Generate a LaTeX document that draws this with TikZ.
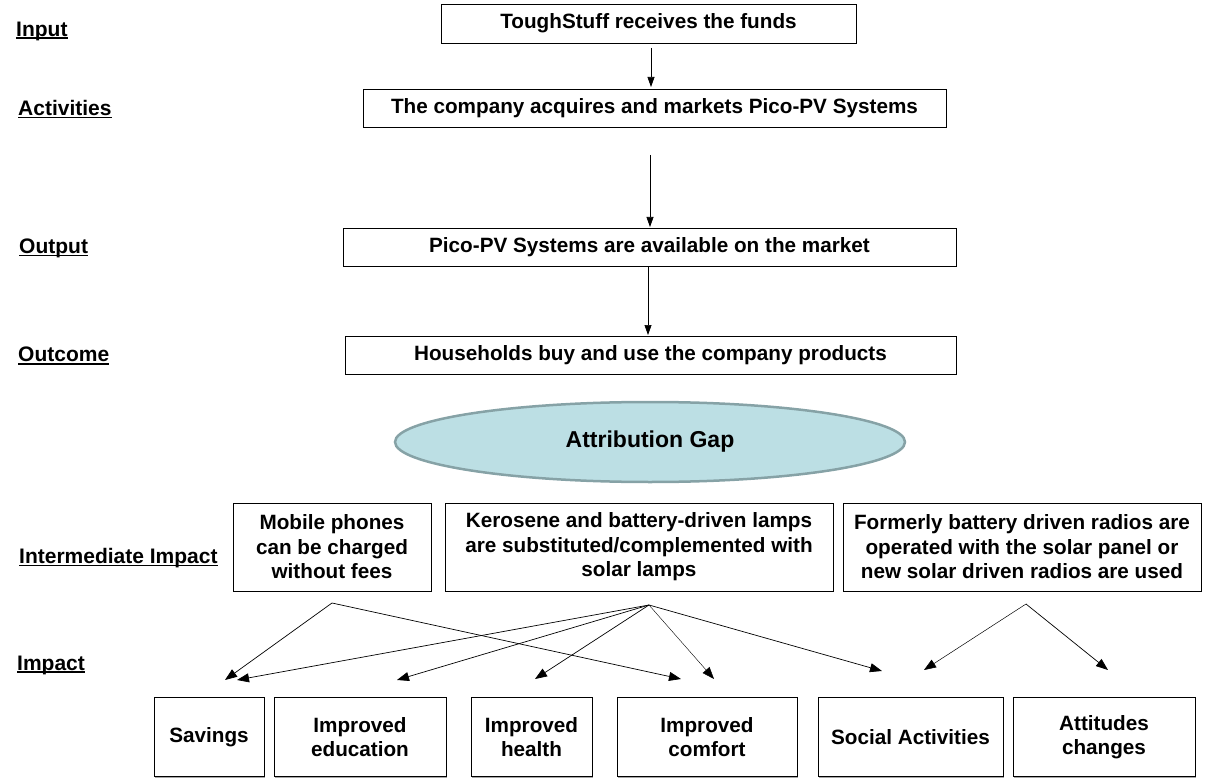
\documentclass[tikz,border=0pt]{standalone}
\usepackage{fontspec}
\setmainfont{Liberation Sans}
\usetikzlibrary{arrows.meta,shapes.geometric,shadows}
\definecolor{gapfill}{HTML}{BCDFE4}
\definecolor{gapline}{HTML}{86A2A6}
\newcommand\ulab[1]{\setbox0\hbox{#1}\rlap{\rule[-3pt]{\wd0}{1.6pt}}\box0}
\begin{document}
\begin{tikzpicture}[x=1pt,y=-1pt,
  box/.style={draw=black,line width=0.8pt,fill=white,align=center,inner sep=0pt,
    font=\bfseries\fontsize{20.7}{24.5}\selectfont,
    drop shadow={shadow xshift=1.2pt,shadow yshift=-1.2pt,fill=gray!70,opacity=1}},
  lbl/.style={anchor=west,inner sep=0pt,font=\bfseries\fontsize{21}{24}\selectfont},
  arr/.style={line width=0.7pt,-{Triangle[length=12pt,width=9pt]}},
  varr/.style={line width=0.7pt,-{Triangle[length=10pt,width=7pt]}}
]
\useasboundingbox (0,0) rectangle (1208,778);

% left labels
\node[lbl] (lin)  at (16,31)  {\ulab{Input}};
\node[lbl] (lact) at (18,109) {\ulab{Activities}};
\node[lbl] (lout) at (19,248) {\ulab{Output}};
\node[lbl] (lotc) at (18,356) {\ulab{Outcome}};
\node[lbl] (limi) at (19,558) {\ulab{Intermediate Impact}};
\node[lbl] (limp) at (17,665) {\ulab{Impact}};

% chain
\node[box,minimum width=415pt,minimum height=39pt] (b1) at (648.5,23.5) {ToughStuff receives the funds};
\node[box,minimum width=583pt,minimum height=38pt] (b2) at (654.5,108) {The company acquires and markets Pico-PV Systems};
\node[box,minimum width=613pt,minimum height=38pt] (b3) at (649.5,247) {Pico-PV Systems are available on the market};
\node[box,minimum width=611pt,minimum height=38pt] (b4) at (650.5,355) {Households buy and use the company products};

\coordinate (s1) at (651,48);  \coordinate (e1) at (651,87);
\coordinate (s2) at (650,155); \coordinate (e2) at (650,227);
\coordinate (s3) at (648,267); \coordinate (e3) at (648,335);
\draw[varr] (s1) -- (e1);
\draw[varr] (s2) -- (e2);
\draw[varr] (s3) -- (e3);

% ellipse
\node[ellipse,draw=gapline,line width=2.5pt,fill=gapfill,minimum width=510pt,minimum height=80pt,inner sep=0pt,
  font=\bfseries\fontsize{23}{26}\selectfont] (gap) at (650,442) {Attribution Gap};

% intermediate impacts
\node[box,minimum width=198pt,minimum height=88pt] (ia) at (332,547) {Mobile phones\\can be charged\\without fees};
\node[box,minimum width=388pt,minimum height=88pt] (ib) at (639,547) {Kerosene and battery-driven lamps\\are substituted/complemented with\\solar lamps};
\node[box,minimum width=358pt,minimum height=88pt] (ic) at (1022,547) {Formerly battery driven radios are\\operated with the solar panel or\\new solar driven radios are used};

% impacts
\tikzset{imp/.style={box,minimum height=79pt,font=\bfseries\fontsize{20.7}{24}\selectfont}}
\node[imp,minimum width=110pt] (sav) at (209,737) {Savings};
\node[imp,minimum width=172pt] (edu) at (360,737) {Improved\\education};
\node[imp,minimum width=121pt] (hea) at (531.5,737) {Improved\\health};
\node[imp,minimum width=180pt] (com) at (707,737) {Improved\\comfort};
\node[imp,minimum width=185pt] (soc) at (910.5,737) {Social Activities};
\node[imp,minimum width=182pt] (att) at (1104,737) {Attitudes\\changes};

% arrow origins and tips
\coordinate (oA) at (332,603);
\coordinate (oB) at (649,605);
\coordinate (oC) at (1026,604);
\coordinate (tSavA) at (225,680);
\coordinate (tSavB) at (237,680);
\coordinate (tEdu) at (397,680);
\coordinate (tHea) at (535,679);
\coordinate (tComA) at (681,679);
\coordinate (tComB) at (714,679);
\coordinate (tSocB) at (882,671);
\coordinate (tSocC) at (924,670);
\coordinate (tAtt) at (1108,670);

\draw[arr] (oA) -- (tSavA);
\draw[arr] (oA) -- (tComA);
\draw[arr] (oB) -- (tSavB);
\draw[arr] (oB) -- (tEdu);
\draw[arr] (oB) -- (tHea);
\draw[arr,line width=0.4pt] (oB) -- (tComB);
\draw[arr] (oB) -- (tSocB);
\draw[arr,line width=0.5pt] (oC) -- (tSocC);
\draw[arr] (oC) -- (tAtt);
\end{tikzpicture}
\end{document}
